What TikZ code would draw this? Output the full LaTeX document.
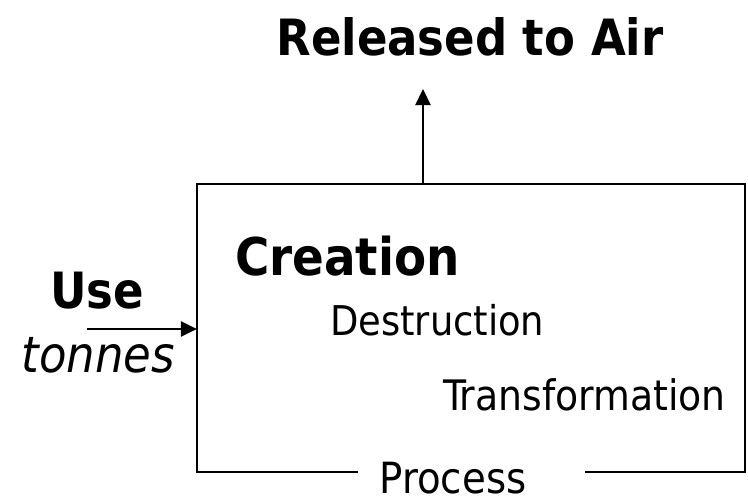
\documentclass[tikz,border=0pt]{standalone}
\usepackage{fontspec}
\setmainfont{DejaVu Sans Condensed}[BoldFont={DejaVu Sans Condensed Bold},ItalicFont={DejaVu Sans Condensed Oblique}]
\usetikzlibrary{arrows.meta}
\tikzset{
  lbl/.style={inner sep=0pt, outer sep=0pt},
  boldtxt/.style={lbl, font=\fontsize{50}{60}\selectfont\bfseries},
  regtxt/.style={lbl, font=\fontsize{41}{48}\selectfont},
  arr/.style={line width=2.2pt, -{Triangle[length=16pt,width=15pt]}},
  procbox/.style={minimum width=546pt, minimum height=287pt, inner sep=0pt, outer sep=1.1pt},
  boxline/.style={line width=2.2pt, line join=miter}
}
\begin{document}
\begin{tikzpicture}[x=1pt,y=-1pt]
\useasboundingbox (0,0) rectangle (748,498);
\node[procbox] (box) at (471,328.5) {};
\coordinate (gapL) at (358,472);
\coordinate (gapR) at (585,472);
\draw[boxline] (gapL) -- (gapL -| box.west) -- (box.north west) -- (box.north east) -- (gapR -| box.east) -- (gapR);
\node[lbl, font=\fontsize{43}{50}\selectfont, anchor=base] (pro) at (453,493) {Process};
\node[boldtxt, anchor=base] (air) at (470,55) {Released to Air};
\node[boldtxt, anchor=base] (use) at (97,308) {Use};
\node[lbl, font=\fontsize{50}{58}\selectfont\itshape, anchor=base] (ton) at (98,372) {tonnes};
\node[boldtxt, font=\fontsize{52}{60}\selectfont\bfseries, anchor=base west] (cre) at (235,275) {Creation};
\node[regtxt, anchor=base west] (des) at (330,335) {Destruction};
\node[regtxt, font=\fontsize{42}{48}\selectfont, anchor=base west] (tra) at (443,410) {Transformation};
\coordinate (uptip) at (423,89);
\coordinate (usetail) at (87,329);
\draw[arr] (uptip |- box.north) -- (uptip);
\draw[arr] (usetail) -- (usetail -| box.west);
\end{tikzpicture}
\end{document}
